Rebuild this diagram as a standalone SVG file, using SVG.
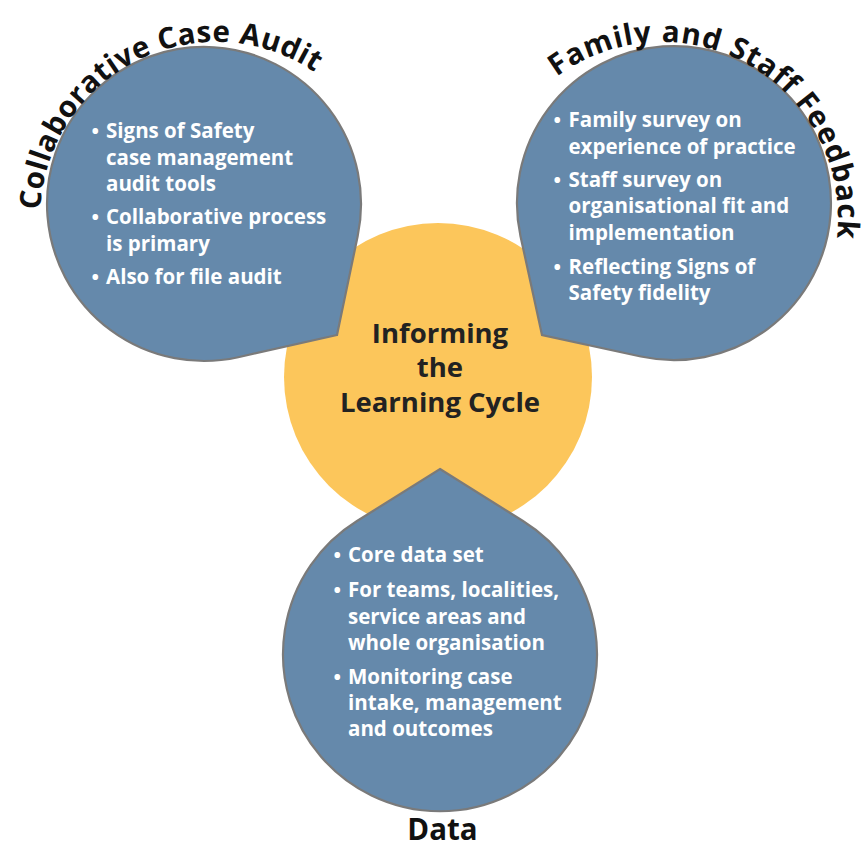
<svg xmlns="http://www.w3.org/2000/svg" width="863" height="848" viewBox="0 0 863 848">
<style>
.blob{fill:#6589AB;stroke:#7A7A7A;stroke-width:2.2}
.bt{font-family:"Open Sans","Noto Sans",sans-serif;font-weight:700;font-size:20.5px;fill:#FFFFFF}
.bu{font-size:20px}
.ttl{font-family:"Open Sans","Noto Sans",sans-serif;font-weight:700;font-size:29.5px;fill:#111111}
.ctr{font-family:"Open Sans","Noto Sans",sans-serif;font-weight:700;font-size:27.5px;fill:#222222;text-anchor:middle}
</style>
<defs>
<path id="arcL" d="M 40.2 210 A 176 176 0 0 1 381.4 157.8" fill="none"/>
<path id="arcR" d="M 556.8 76.9 A 176 176 0 0 1 814.4 306" fill="none"/>
</defs>
<rect width="863" height="848" fill="#FFFFFF"/>
<g id="center">
<circle cx="438" cy="377" r="154" fill="#FCC65B"/>
</g>
<g id="node-audit">
<path class="blob" d="M 337 335 L 238.2 357.2 A 157 157 0 1 1 357.7 236.1 Z"/>
<text class="ttl" letter-spacing="0.5"><textPath href="#arcL">Collaborative Case Audit</textPath></text>
<text class="bt" y="138"><tspan class="bu" x="91.5">•</tspan><tspan x="106">Signs of Safety</tspan></text>
<text class="bt" x="106" y="164.5">case management</text>
<text class="bt" x="106" y="191">audit tools</text>
<text class="bt" y="224"><tspan class="bu" x="91.5">•</tspan><tspan x="106">Collaborative process</tspan></text>
<text class="bt" x="106" y="250.5">is primary</text>
<text class="bt" y="284"><tspan class="bu" x="91.5">•</tspan><tspan x="106">Also for file audit</tspan></text>
</g>
<g id="node-feedback">
<path class="blob" d="M 542 335 L 520.5 236.2 A 157 157 0 1 1 640.8 356.5 Z"/>
<text class="ttl" letter-spacing="0.95"><textPath href="#arcR">Family and Staff Feedback</textPath></text>
<text class="bt" y="127"><tspan class="bu" x="553.5">•</tspan><tspan x="568.5">Family survey on</tspan></text>
<text class="bt" x="568.5" y="153.5">experience of practice</text>
<text class="bt" y="186.5"><tspan class="bu" x="553.5">•</tspan><tspan x="568.5">Staff survey on</tspan></text>
<text class="bt" x="568.5" y="213">organisational fit and</text>
<text class="bt" x="568.5" y="239.5">implementation</text>
<text class="bt" y="273.5"><tspan class="bu" x="553.5">•</tspan><tspan x="568.5">Reflecting Signs of</tspan></text>
<text class="bt" x="568.5" y="299.5">Safety fidelity</text>
</g>
<g id="node-data">
<path class="blob" d="M 440 469 L 523 521 A 157 157 0 1 1 357 521 Z"/>
<text class="bt" y="562"><tspan class="bu" x="333.5">•</tspan><tspan x="348">Core data set</tspan></text>
<text class="bt" y="597"><tspan class="bu" x="333.5">•</tspan><tspan x="348">For teams, localities,</tspan></text>
<text class="bt" x="348" y="623.5">service areas and</text>
<text class="bt" x="348" y="649.5">whole organisation</text>
<text class="bt" y="683.5"><tspan class="bu" x="333.5">•</tspan><tspan x="348">Monitoring case</tspan></text>
<text class="bt" x="348" y="709.5">intake, management</text>
<text class="bt" x="348" y="736">and outcomes</text>
<text class="ttl" x="442.5" y="840" text-anchor="middle" font-size="30">Data</text>
</g>
<g id="center-label">
<text class="ctr" x="440" y="343">Informing</text>
<text class="ctr" x="440" y="377">the</text>
<text class="ctr" x="440" y="412">Learning Cycle</text>
</g>
<g id="connectors"/>
</svg>
